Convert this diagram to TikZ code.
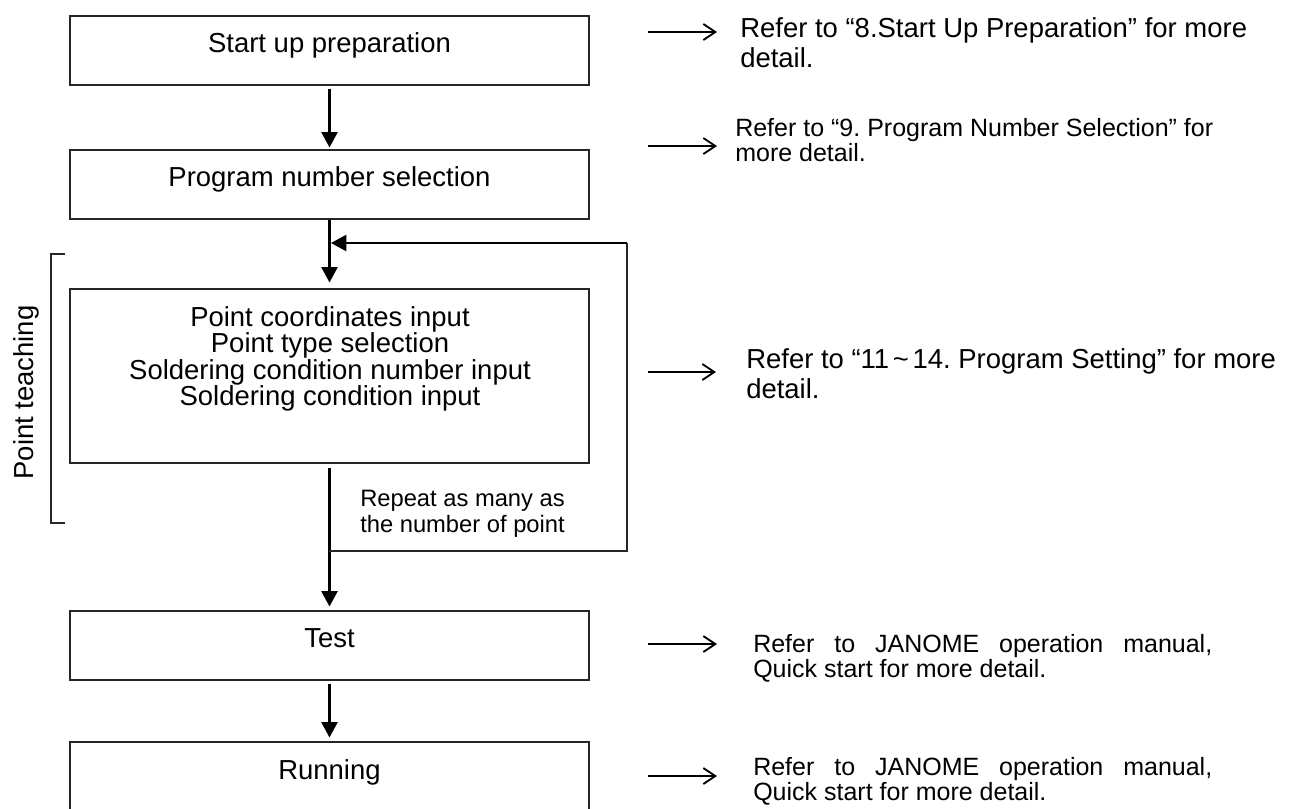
\documentclass[tikz,border=0pt]{standalone}
\usepackage{fontspec}
\setmainfont{Liberation Sans}
\usetikzlibrary{arrows.meta}
\setlength{\lineskiplimit}{-30pt}
\frenchspacing
\begin{document}
\begin{tikzpicture}[x=0.75pt,y=-0.75pt,
  box/.style={draw=black!85, line width=0.8pt, minimum width=389.25pt, minimum height=51.75pt, inner sep=0pt},
  boxfont/.style={font=\fontsize{20.6pt}{19.9pt}\selectfont},
  reffont/.style={font=\fontsize{18.75pt}{18.75pt}\selectfont, inner sep=0pt, anchor=north west, align=left},
  refbig/.style={font=\fontsize{20.6pt}{22.5pt}\selectfont, inner sep=0pt, anchor=north west, align=left},
  smallfont/.style={font=\fontsize{17.8pt}{19.5pt}\selectfont, inner sep=0pt, anchor=north west, align=left},
  flow/.style={line width=1.7pt, -{Triangle[length=11.5pt,width=12pt]}},
  refarrow/.style={line width=1.4pt, -{Straight Barb[length=9pt,width=12pt]}},
  thin/.style={draw=black!85, line width=0.8pt}]
\useasboundingbox (0,0) rectangle (1291,808);
\clip (0,0) rectangle (1291,808);

% boxes
\node[box] (b1) at (329.5,50.5) {};
\node[box] (b2) at (329.5,184.5) {};
\node[box, minimum height=130.5pt] (b3) at (329.5,376) {};
\node[box] (b4) at (329.5,645.5) {};
\node[box] (b5) at (329.5,776.5) {};

% box texts
\node[boxfont, inner sep=0pt, anchor=base] (t1) at (329.5,52) {Start up preparation};
\node[boxfont, inner sep=0pt, anchor=base] (t2) at (329.5,186) {Program number selection};
\node[boxfont, inner sep=0pt, anchor=north, align=center] (t3) at (330,306)
  {Point coordinates input\\Point type selection\\Soldering condition number input\\Soldering condition input};
\node[boxfont, inner sep=0pt, anchor=base] (t4) at (329.5,647) {Test};
\node[boxfont, inner sep=0pt, anchor=base] (t5) at (329.5,779) {Running};

% side bracket and label
\coordinate (k1) at (65,254);
\coordinate (k2) at (51,254);
\coordinate (k3) at (51,523);
\coordinate (k4) at (65,523);
\draw[thin] (k1) -- (k2) -- (k3) -- (k4);
\node[boxfont, inner sep=0pt, rotate=90, anchor=base] (pt) at (33,392.5) {Point teaching};

% main flow
\coordinate (j1) at (329,243);
\coordinate (lr) at (627,243);
\coordinate (lb) at (627,551);
\coordinate (jb) at (329,551);
\draw[flow] ([yshift=-2.25pt]b1.south) -- ([yshift=1.5pt]b2.north);
\draw[flow] (b2.south) -- ([yshift=4.5pt]b3.north);
\draw[flow] ([yshift=-3.5pt]b3.south) -- ([yshift=3pt]b4.north);
\draw[flow] ([yshift=-2.25pt]b4.south) -- ([yshift=3pt]b5.north);

% loop
\draw[thin] (lr) -- (lb) -- (jb);
\draw[flow] (lr) -- ([xshift=1.5pt]j1);
\node[smallfont] (rep) at (360,490) {Repeat as many as\\the number of point};

% reference arrows
\coordinate (a1s) at (648,32);  \coordinate (a1e) at (717,32);
\coordinate (a2s) at (648,146); \coordinate (a2e) at (717,146);
\coordinate (a3s) at (648,372); \coordinate (a3e) at (716,372);
\coordinate (a4s) at (648,644); \coordinate (a4e) at (717,644);
\coordinate (a5s) at (648,776); \coordinate (a5e) at (717,776);
\draw[refarrow] (a1s) -- (a1e);
\draw[refarrow] (a2s) -- (a2e);
\draw[refarrow] (a3s) -- (a3e);
\draw[refarrow] (a4s) -- (a4e);
\draw[refarrow] (a5s) -- (a5e);

% reference texts
\node[refbig] (r1) at (740,17) {Refer to “8.Start Up Preparation” for more\\detail.};
\node[reffont] (r2) at (735,118.5) {Refer to “9. Program Number Selection” for\\more detail.};
\node[refbig] (r3) at (746,348) {Refer to “11\makebox[0.85em]{\textasciitilde}14. Program Setting” for more\\detail.};
\node[reffont] (r4) at (753,633.8) {\makebox[344.25pt][s]{Refer to JANOME operation manual,}\\Quick start for more detail.};
\node[reffont] (r5) at (753,756.8) {\makebox[344.25pt][s]{Refer to JANOME operation manual,}\\Quick start for more detail.};
\end{tikzpicture}
\end{document}
